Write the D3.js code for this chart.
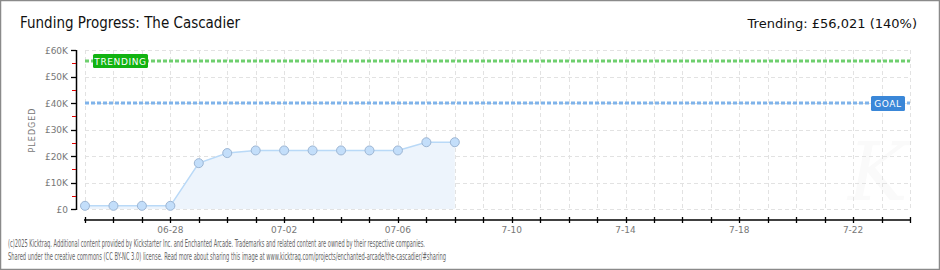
<!DOCTYPE html>
<html><head><meta charset="utf-8">
<script src="https://cdn.jsdelivr.net/npm/d3@7"></script>
<style>
html,body{margin:0;padding:0;background:#fff;}
svg{display:block;}
</style></head>
<body>
<script>
// ---- data ----
const dates = ["2025-06-25","2025-06-26","2025-06-27","2025-06-28","2025-06-29","2025-06-30","2025-07-01","2025-07-02","2025-07-03","2025-07-04","2025-07-05","2025-07-06","2025-07-07","2025-07-08"];
const pledged = [1200,1200,1200,1200,17300,21100,22100,22100,22100,22100,22100,22100,25200,25200];
const axisDomain = ["2025-06-25","2025-07-24"];
const xTickLabelDates = ["2025-06-28","2025-07-02","2025-07-06","2025-07-10","2025-07-14","2025-07-18","2025-07-22"];
const xTickLabels = ["06-28","07-02","07-06","7-10","7-14","7-18","7-22"];
const yTicks = [0,10000,20000,30000,40000,50000,60000];
const yTickLabels = ["£0","£10K","£20K","£30K","£40K","£50K","£60K"];
const yMinorTicks = [5000,15000,25000,35000,45000,55000];
const goal = 40000;
const trending = 56021;
const title = "Funding Progress: The Cascadier";
const trendingText = "Trending: £56,021 (140%)";
const footer1 = "(c)2025 Kicktraq. Additional content provided by Kickstarter Inc. and Enchanted Arcade. Trademarks and related content are owned by their respective companies.";
const footer2 = "Shared under the creative commons (CC BY-NC 3.0) license. Read more about sharing this image at www.kicktraq.com/projects/enchanted-arcade/the-cascadier/#sharing";

// ---- chart ----
const W = 940, H = 270;
const parse = d3.utcParse("%Y-%m-%d");
const svg = d3.select("body").append("svg").attr("width", W).attr("height", H);
svg.append("rect").attr("x",0.5).attr("y",0.5).attr("width",W-1).attr("height",H-1)
  .attr("fill","#fff").attr("stroke","#8a8a8a").attr("stroke-width",1.5);

const x = d3.scaleUtc().domain(axisDomain.map(parse)).range([85, 910]);
const y = d3.scaleLinear().domain([0, 60000]).range([209, 50]);
const allDays = d3.utcDay.range(parse(axisDomain[0]), d3.utcDay.offset(parse(axisDomain[1]), 1));

// watermark
svg.append("text").attr("x", 878).attr("y", 200).attr("text-anchor","middle")
  .attr("font-family","DejaVu Serif").attr("font-style","italic").attr("font-size",80)
  .attr("fill","#fafafa").text("K");

// grid
const grid = svg.append("g").attr("stroke","#e2e2e2").attr("stroke-width",1).attr("stroke-dasharray","4,3");
grid.selectAll("line.h").data(yTicks).join("line").attr("class","h")
  .attr("x1",85).attr("x2",910).attr("y1",d=>Math.round(y(d))+0.5).attr("y2",d=>Math.round(y(d))+0.5);
grid.selectAll("line.v").data(allDays).join("line").attr("class","v")
  .attr("x1",d=>Math.round(x(d))+0.5).attr("x2",d=>Math.round(x(d))+0.5).attr("y1",50).attr("y2",209);

// area + line
const pts = dates.map((d,i)=>({d:parse(d), v:pledged[i]}));
svg.append("path").datum(pts)
  .attr("d", d3.area().x(p=>x(p.d)).y0(y(0)).y1(p=>y(p.v)))
  .attr("fill","#edf4fc");
svg.append("path").datum(pts)
  .attr("d", d3.line().x(p=>x(p.d)).y(p=>y(p.v)))
  .attr("fill","none").attr("stroke","#b9d9f7").attr("stroke-width",1.5);

// goal & trending lines
function refLine(v, color){
  svg.append("line").attr("x1",85).attr("x2",910).attr("y1",Math.round(y(v))).attr("y2",Math.round(y(v)))
    .attr("stroke",color).attr("stroke-width",3).attr("stroke-dasharray","4,2");
}
refLine(trending, "#6fcf6f");
refLine(goal, "#7fb3ea");

// points
svg.selectAll("circle.pt").data(pts).join("circle").attr("class","pt")
  .attr("cx",p=>x(p.d)).attr("cy",p=>y(p.v)).attr("r",4.5)
  .attr("fill","#c3defa").attr("stroke","#9cb5d3").attr("stroke-width",1);

// labels on ref lines
function tag(xl, yl, w, h, fill, txt){
  const g = svg.append("g");
  g.append("rect").attr("x",xl).attr("y",yl).attr("width",w).attr("height",h).attr("rx",1.5).attr("fill",fill);
  g.append("text").attr("x",xl+w/2).attr("y",yl+h/2+3.5).attr("text-anchor","middle")
    .attr("font-family","DejaVu Sans").attr("font-size",9).attr("letter-spacing",0.6)
    .attr("fill","#fff").text(txt);
}
tag(93, 54, 55, 14, "#12b312", "TRENDING");
tag(871, 96, 34, 15, "#3a87d8", "GOAL");

// y axis
const ya = svg.append("g");
ya.append("line").attr("x1",76.5).attr("x2",76.5).attr("y1",50).attr("y2",210).attr("stroke","#000").attr("stroke-width",1.5);
ya.selectAll("line.t").data(yTicks).join("line").attr("class","t")
  .attr("x1",71).attr("x2",76).attr("y1",d=>Math.round(y(d))+0.5).attr("y2",d=>Math.round(y(d))+0.5)
  .attr("stroke","#000").attr("stroke-width",1.3);
ya.selectAll("line.m").data(yMinorTicks).join("line").attr("class","m")
  .attr("x1",72).attr("x2",76).attr("y1",d=>Math.round(y(d))+0.5).attr("y2",d=>Math.round(y(d))+0.5)
  .attr("stroke","#e00000").attr("stroke-width",1);
ya.selectAll("text").data(yTicks).join("text")
  .attr("x",68).attr("y",d=>y(d)+3.5).attr("text-anchor","end")
  .attr("font-family","DejaVu Sans").attr("font-size",9).attr("fill","#777")
  .text((d,i)=>yTickLabels[i]);
svg.append("text").attr("transform","translate(35,130) rotate(-90)").attr("text-anchor","middle")
  .attr("font-family","DejaVu Sans").attr("font-size",8).attr("letter-spacing",1).attr("fill","#777")
  .text("PLEDGED");

// x axis
const xa = svg.append("g");
xa.append("line").attr("x1",84).attr("x2",911).attr("y1",220).attr("y2",220).attr("stroke","#000").attr("stroke-width",1.5);
xa.selectAll("line.t").data(allDays).join("line").attr("class","t")
  .attr("x1",d=>Math.round(x(d))+0.5).attr("x2",d=>Math.round(x(d))+0.5).attr("y1",217).attr("y2",223)
  .attr("stroke","#000").attr("stroke-width",1.3);
xa.selectAll("text").data(xTickLabelDates).join("text")
  .attr("x",d=>x(parse(d))).attr("y",233).attr("text-anchor","middle")
  .attr("font-family","DejaVu Sans").attr("font-size",9).attr("fill","#777")
  .text((d,i)=>xTickLabels[i]);

// titles
svg.append("text").attr("x",20).attr("y",28).attr("font-family","DejaVu Sans").attr("font-size",15)
  .attr("fill","#111").attr("textLength",220).attr("lengthAdjust","spacingAndGlyphs").text(title);
svg.append("text").attr("x",917).attr("y",28).attr("text-anchor","end").attr("font-family","DejaVu Sans").attr("font-size",13)
  .attr("fill","#111").text(trendingText);

// footer
svg.append("text").attr("x",8).attr("y",247).attr("font-family","DejaVu Sans").attr("font-size",10)
  .attr("fill","#666").attr("textLength",417).attr("lengthAdjust","spacingAndGlyphs").text(footer1);
svg.append("text").attr("x",8).attr("y",260).attr("font-family","DejaVu Sans").attr("font-size",10)
  .attr("fill","#666").attr("textLength",438).attr("lengthAdjust","spacingAndGlyphs").text(footer2);
</script>
</body></html>
